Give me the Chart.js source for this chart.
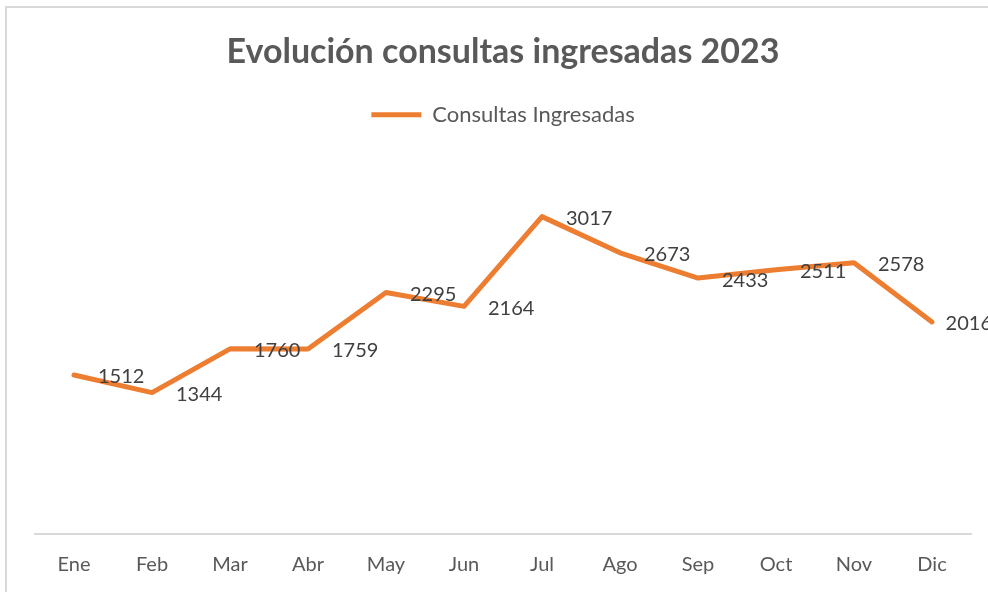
<!DOCTYPE html>
<html>
<head>
<meta charset="utf-8">
<script src="https://cdn.jsdelivr.net/npm/chart.js@4/dist/chart.umd.min.js"></script>
<style>
html,body{margin:0;padding:0;background:#fff;}
#wrap{width:988px;height:592px;position:relative;}
</style>
</head>
<body>
<div id="wrap"><canvas id="c" width="988" height="592"></canvas></div>
<script>
const categories = ["Ene","Feb","Mar","Abr","May","Jun","Jul","Ago","Sep","Oct","Nov","Dic"];
const seriesName = "Consultas Ingresadas";
const consultas = [1512,1344,1760,1759,2295,2164,3017,2673,2433,2511,2578,2016];
const chartTitle = "Evolución consultas ingresadas 2023";

const FONT = "Lato, 'Open Sans', sans-serif";
const ORANGE = "#ED7D31";

const frame = {
  id: 'frame',
  beforeDraw(chart) {
    const ctx = chart.ctx;
    ctx.save();
    ctx.fillStyle = '#fff';
    ctx.fillRect(0, 0, chart.width, chart.height);
    ctx.strokeStyle = '#d9d9d9';
    ctx.lineWidth = 2;
    ctx.strokeRect(6, 7, 1100, 700);
    ctx.restore();
  }
};

const valueLabels = {
  id: 'valueLabels',
  afterDatasetsDraw(chart) {
    const ctx = chart.ctx;
    const meta = chart.getDatasetMeta(0);
    const data = chart.data.datasets[0].data;
    ctx.save();
    ctx.font = "20px " + FONT;
    ctx.fillStyle = '#404040';
    ctx.textAlign = 'left';
    ctx.textBaseline = 'middle';
    const rightLimit = chart.width + 4;
    meta.data.forEach((pt, i) => {
      const txt = String(data[i]);
      const w = ctx.measureText(txt).width;
      const x = Math.min(pt.x + 24, rightLimit - w);
      ctx.fillText(txt, x, pt.y + 2);
    });
    ctx.restore();
  }
};

new Chart(document.getElementById('c'), {
  type: 'line',
  data: {
    labels: categories,
    datasets: [{
      label: seriesName,
      data: consultas,
      xAxisID: 'x',
      yAxisID: 'y',
      borderColor: ORANGE,
      backgroundColor: ORANGE,
      borderWidth: 5,
      borderCapStyle: 'round',
      borderJoinStyle: 'round',
      pointRadius: 0,
      pointStyle: 'line',
      tension: 0
    }]
  },
  options: {
    responsive: false,
    animation: false,
    devicePixelRatio: 1,
    layout: { padding: { left: 35, right: 17, top: 0, bottom: 15 } },
    plugins: {
      title: {
        display: true,
        text: chartTitle,
        color: '#595959',
        font: { family: FONT, size: 34, weight: 'bold', lineHeight: 1.2 },
        padding: { top: 32, bottom: 21 }
      },
      legend: {
        display: true,
        labels: {
          usePointStyle: true,
          pointStyleWidth: 50,
          color: '#595959',
          font: { family: FONT, size: 22 },
          padding: 10
        }
      },
      tooltip: { enabled: false }
    },
    scales: {
      x: {
        offset: true,
        position: 'bottom',
        grid: { display: false, drawTicks: false },
        border: { display: true, color: '#d9d9d9', width: 2 },
        ticks: { color: '#595959', font: { family: FONT, size: 20 }, padding: 19, maxRotation: 0 },
        afterFit(scale) { scale.height = 43; }
      },
      xTop: {
        type: 'category',
        position: 'top',
        display: true,
        grid: { display: false, drawTicks: false },
        border: { display: false },
        ticks: { display: false },
        afterFit(scale) { scale.height = 30; }
      },
      y: {
        display: false,
        min: 0,
        max: 3500
      }
    }
  },
  plugins: [frame, valueLabels]
});
</script>
</body>
</html>
